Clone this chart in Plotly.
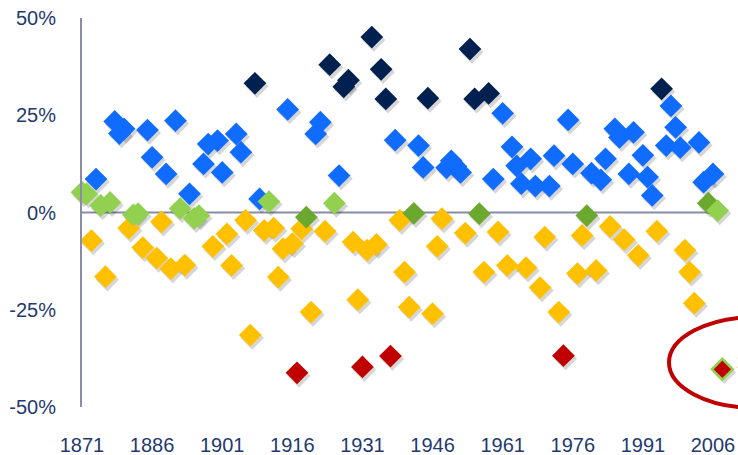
import plotly.graph_objects as go

# ---------------- data ----------------
years = list(range(1871, 2009))

returns = [
    5.2, 4.8, -7.2, 8.6, 1.8, -16.5, 2.6, 23.4, 20.3, 21.5,          # 1871-1880
    -4.0, -0.6, -0.3, -9.0, 21.2, 14.2, -11.7, -2.4, 9.9, -14.4,     # 1881-1890
    23.6, 1.0, -13.5, 4.8, -1.5, -0.8, 12.5, 17.6, -8.7, 18.5,       # 1891-1900
    10.3, -5.5, -13.6, 20.2, 15.5, -2.0, -31.5, 33.2, 3.5, -4.6,     # 1901-1910
    2.8, -4.0, -16.6, -9.3, 26.5, -8.0, -41.2, -4.2, -1.2, -25.6,    # 1911-1920
    20.2, 23.2, -4.8, 38.0, 2.4, 9.5, 32.3, 34.0, -7.6, -22.4,       # 1921-1930
    -39.7, -9.7, 45.1, -8.2, 36.8, 29.2, -36.9, 18.6, -2.0, -15.3,   # 1931-1940
    -24.3, -0.2, 17.2, 11.6, 29.4, -26.0, -8.7, -1.6, 11.5, 13.3,    # 1941-1950
    11.8, 10.3, -5.3, 42.0, 29.2, -0.3, -15.3, 30.6, 8.6, -5.0,      # 1951-1960
    25.5, -13.6, 16.9, 12.0, 7.4, -14.2, 13.8, 6.8, -19.3, -6.3,     # 1961-1970
    6.8, 14.6, -25.6, -36.8, 23.8, 12.5, -15.7, -5.9, -0.8, 10.1,    # 1971-1980
    -14.9, 8.4, 13.8, -3.6, 21.5, 19.3, -7.0, 9.9, 20.6, -11.0,      # 1981-1990
    14.7, 9.1, 4.4, -4.8, 31.8, 17.2, 27.4, 21.9, 16.7, -9.7,        # 1991-2000
    -15.3, -23.3, 18.0, 7.8, 2.4, 9.9, 0.5, -40.3,                   # 2001-2008
]

# return band of each year: N = strong gain, B = gain, G = flat (light),
# D = flat (dark), O = loss, R = heavy loss
groups = list(
    "GGOBGOGBBB"   # 1871-1880
    "OGGOBBOOBO"   # 1881-1890
    "BGOBGGBBOB"   # 1891-1900
    "BOOBBOONBO"   # 1901-1910
    "GOOOBORODO"   # 1911-1920
    "BBONGBNNOO"   # 1921-1930
    "RONONNRBOO"   # 1931-1940
    "ODBBNOOOBB"   # 1941-1950
    "BBONNDONBO"   # 1951-1960
    "BOBBBOBBOO"   # 1961-1970
    "BBORBBOODB"   # 1971-1980
    "OBBOBBOBBO"   # 1981-1990
    "BBBONBBBBO"   # 1991-2000
    "OOBBDBGR"     # 2001-2008
)

highlight_year = 2008
tick_years = [1871, 1886, 1901, 1916, 1931, 1946, 1961, 1976, 1991, 2006]
y_ticks = [-50, -25, 0, 25, 50]
y_tick_labels = ["-50%", "-25%", "0%", "25%", "50%"]

# ---------------- styling ----------------
colors = {
    "O": "#FFC000",
    "R": "#C00000",
    "B": "#106CFF",
    "N": "#002050",
    "D": "#6AA82E",
    "G": "#92D050",
}
draw_order = ["O", "R", "B", "N", "D", "G"]
text_color = "#1F3A6E"
axis_color = "#8A8CA6"
font_family = "Arial, Liberation Sans, sans-serif"

W, H = 738, 455
ml, mr, mt, mb = 82, 0, 18, 48
plot_w = W - ml - mr
plot_h = H - mt - mb
px_per_year = 4.674
x_range = [years[0], years[0] + plot_w / px_per_year]
y_range = [-50, 50]
px_per_pct = plot_h / (y_range[1] - y_range[0])

# shadow offset (pixels) converted to data units
sh_dx, sh_dy = 2, 3
sh_x_range = [x_range[0] - sh_dx / px_per_year, x_range[1] - sh_dx / px_per_year]
sh_y_range = [y_range[0] + sh_dy / px_per_pct, y_range[1] + sh_dy / px_per_pct]

fig = go.Figure()

# soft drop shadow under every diamond (on the hidden base axes, drawn first)
fig.add_trace(go.Scatter(
    x=years, y=returns, mode="markers", xaxis="x", yaxis="y",
    marker=dict(symbol="diamond", size=18, color="rgba(0,0,0,0.16)", line=dict(width=0)),
    hoverinfo="skip", cliponaxis=False, showlegend=False,
))

for g in draw_order:
    xs = [yr for yr, gg in zip(years, groups) if gg == g and yr != highlight_year]
    ys = [v for yr, v, gg in zip(years, returns, groups) if gg == g and yr != highlight_year]
    fig.add_trace(go.Scatter(
        x=xs, y=ys, mode="markers", xaxis="x2", yaxis="y2",
        marker=dict(symbol="diamond", size=17.5, color=colors[g], opacity=1,
                    line=dict(width=0)),
        cliponaxis=False, showlegend=False,
    ))

# highlighted year
hx = [yr for yr in years if yr == highlight_year]
hy = [v for yr, v in zip(years, returns) if yr == highlight_year]
hg = [gg for yr, gg in zip(years, groups) if yr == highlight_year]
fig.add_trace(go.Scatter(
    x=hx, y=hy, mode="markers", xaxis="x2", yaxis="y2",
    marker=dict(symbol="diamond", size=16, color=colors[hg[0]], opacity=1,
                line=dict(width=2.5, color=colors["G"])),
    cliponaxis=False, showlegend=False,
))

# zero line spanning the data years
fig.add_shape(type="line", xref="x2", yref="y2",
              x0=years[0], x1=years[-1], y0=0, y1=0,
              line=dict(color=axis_color, width=2), layer="below")

# highlight ellipse (partly outside the frame)
def px_to_paper_x(px):
    return (px - ml) / plot_w

def px_to_paper_y(py):
    return (H - mb - py) / plot_h

fig.add_shape(type="circle", xref="paper", yref="paper",
              x0=px_to_paper_x(669), x1=px_to_paper_x(843),
              y0=px_to_paper_y(408), y1=px_to_paper_y(317),
              line=dict(color="#C00000", width=4), layer="above")

fig.add_annotation(xref="paper", yref="paper",
                   x=px_to_paper_x(735), y=px_to_paper_y(362),
                   xanchor="left", yanchor="middle", showarrow=False,
                   text=str(highlight_year),
                   font=dict(family=font_family, size=18, color="#C00000"))

fig.update_layout(
    width=W, height=H,
    margin=dict(l=ml, r=mr, t=mt, b=mb, pad=0),
    paper_bgcolor="white", plot_bgcolor="white",
    showlegend=False,
    template="none",
    font=dict(family=font_family, color=text_color),
    # hidden base axes carrying the shadow, offset by a few pixels
    xaxis=dict(range=sh_x_range, visible=False, showgrid=False, zeroline=False,
               automargin=False),
    yaxis=dict(range=sh_y_range, visible=False, showgrid=False, zeroline=False,
               automargin=False),
    # visible axes carrying the data
    xaxis2=dict(
        overlaying="x", side="bottom",
        range=x_range, tickmode="array", tickvals=tick_years,
        ticktext=[str(t) for t in tick_years],
        showgrid=False, zeroline=False, showline=False, ticks="",
        tickfont=dict(size=20, color=text_color, family=font_family),
        ticklabelstandoff=24, automargin=False,
    ),
    yaxis2=dict(
        overlaying="y", side="left",
        range=y_range, tickmode="array", tickvals=y_ticks, ticktext=y_tick_labels,
        showgrid=False, zeroline=False, showline=True,
        linecolor=axis_color, linewidth=2, ticks="",
        tickfont=dict(size=20, color=text_color, family=font_family),
        ticklabelstandoff=20, automargin=False,
    ),
)

fig.write_html(
    "out.html",
    config={"displayModeBar": False},
    post_script="document.body.style.margin='0px';document.body.style.overflow='hidden';",
)
